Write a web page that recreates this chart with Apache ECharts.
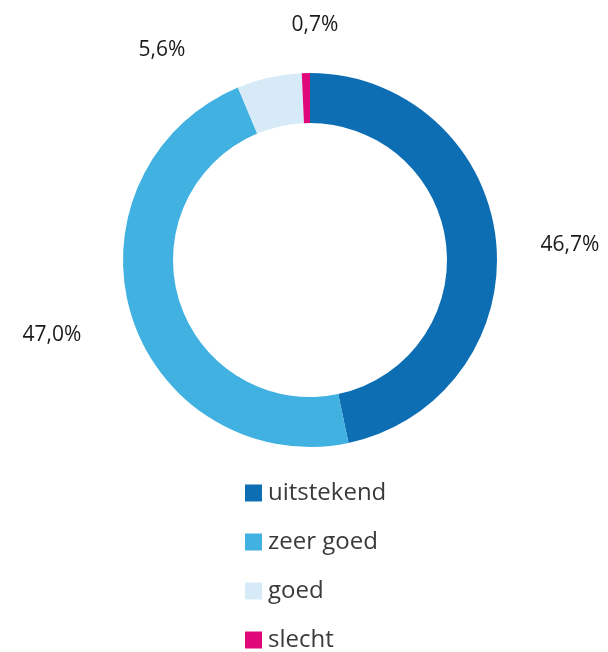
<!DOCTYPE html>
<html>
<head>
<meta charset="utf-8">
<script src="https://cdn.jsdelivr.net/npm/echarts@6/dist/echarts.min.js"></script>
<style>
  html, body { margin: 0; padding: 0; background: #fff; }
  #main { width: 608px; height: 652px; }
</style>
</head>
<body>
<div id="main"></div>
<script>
// beoordeling - aandeel per categorie
var categories = ["uitstekend", "zeer goed", "goed", "slecht"];
var shares = [46.7, 47.0, 5.6, 0.7];
var colors = ["#0e6eb4", "#41b1e1", "#d6ebf7", "#e0077b"];

// plek van de percentages (midden van de tekst)
var labelPos = [[570, 245], [52, 335], [162, 50], [315, 25]];

var chart = echarts.init(document.getElementById("main"));

var pieData = categories.map(function (name, i) {
  return { name: name, value: shares[i], itemStyle: { color: colors[i] } };
});

var option = {
  animation: false,
  legend: {
    orient: "vertical",
    left: 245,
    top: 481,
    height: 200,
    padding: 0,
    itemWidth: 17,
    itemHeight: 17,
    itemGap: 25,
    icon: "rect",
    textStyle: {
      fontFamily: "Open Sans",
      fontSize: 24,
      lineHeight: 24,
      color: "#3a3a3a",
      padding: [0, 0, 0, 1]
    },
    data: categories
  },
  series: [
    {
      type: "pie",
      center: [310, 260],
      radius: [137, 187],
      startAngle: 90,
      clockwise: true,
      avoidLabelOverlap: false,
      label: {
        show: true,
        position: "outside",
        fontFamily: "Open Sans",
        fontSize: 21,
        color: "#1a1a1a",
        formatter: function (p) {
          return p.value.toFixed(1).replace(".", ",") + "%";
        }
      },
      labelLine: { show: false },
      labelLayout: function (params) {
        var p = labelPos[params.dataIndex];
        return {
          x: p[0],
          y: p[1],
          align: "center",
          verticalAlign: "middle",
          hideOverlap: false
        };
      },
      emphasis: { disabled: true },
      data: pieData
    }
  ]
};

option && chart.setOption(option);
</script>
</body>
</html>
